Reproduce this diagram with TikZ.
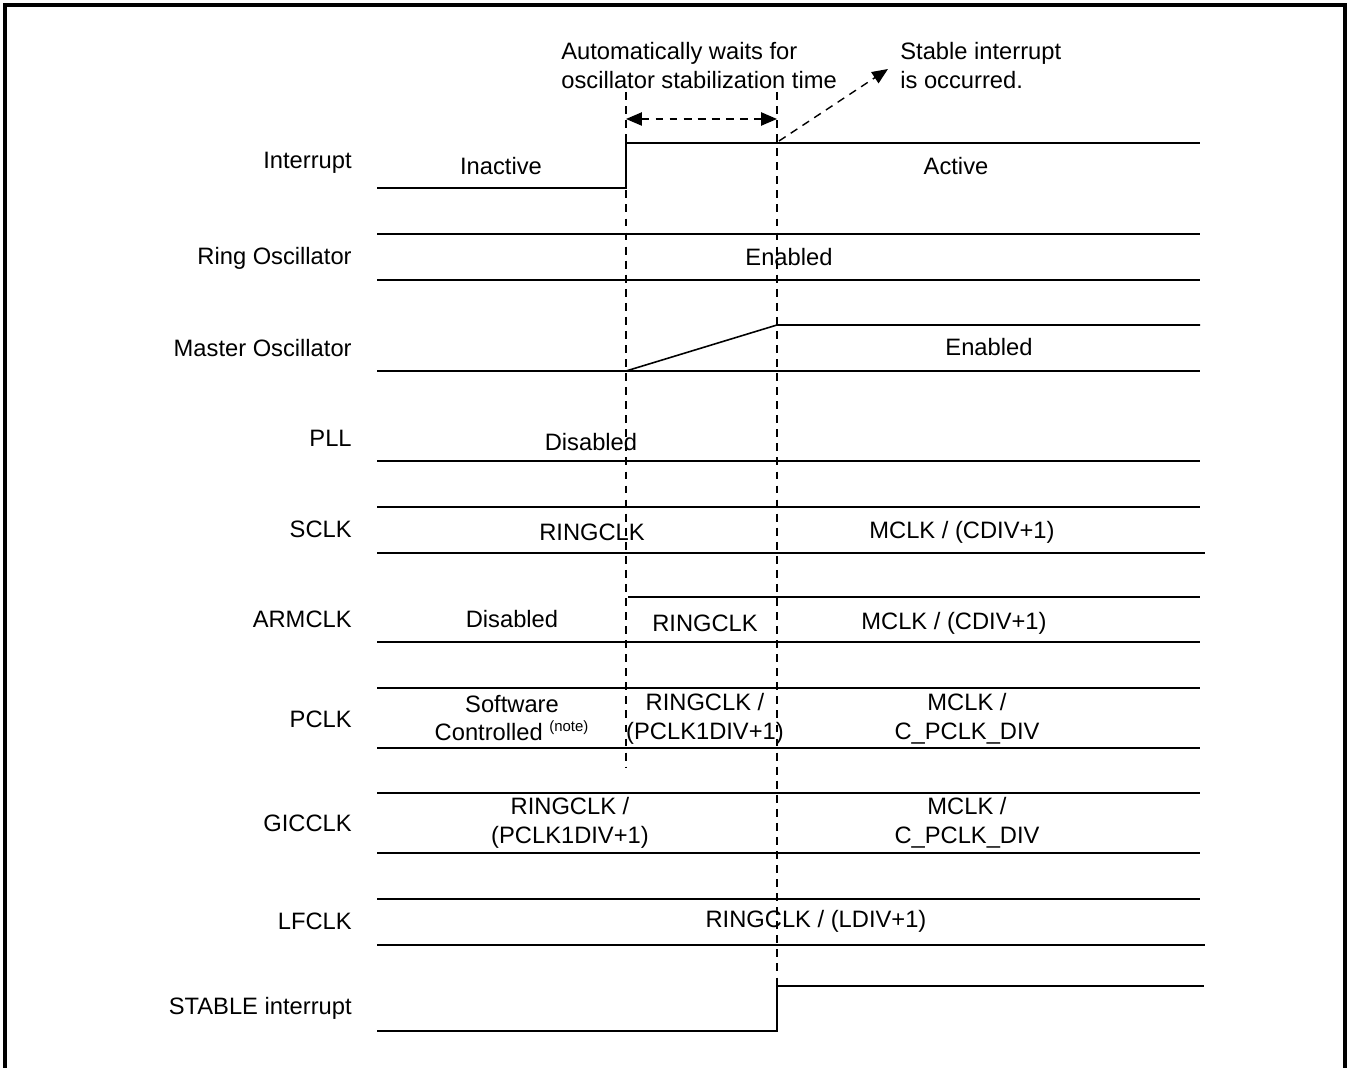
\documentclass[tikz,border=0pt]{standalone}
\usepackage{fontspec}
\setmainfont{Liberation Sans}
\usetikzlibrary{arrows.meta,positioning,calc}

\begin{document}
\begin{tikzpicture}[x=0.02cm,y=-0.02cm,
  sig/.style={draw=black,line width=0.9pt},
  guide/.style={draw=black,line width=0.8pt,dash pattern=on 4.5pt off 3.5pt},
  lbl/.style={anchor=east,inner sep=0pt,font=\fontsize{13.5}{16.4}\selectfont},
  txt/.style={inner sep=0pt,align=center,font=\fontsize{13.5}{16.4}\selectfont}]
  \useasboundingbox (0,0) rectangle (1350,1068);
  \draw[line width=1.8pt] (5,1070) -- (5,5) -- (1345,5) -- (1345,1070);

  % signal names
  \node[lbl](nInt) at (352,163){Interrupt};
  \node[lbl](nRing) at (352,258){Ring Oscillator};
  \node[lbl](nMast) at (352,348){Master Oscillator};
  \node[lbl](nPll) at (352,438){PLL};
  \node[lbl](nSclk) at (352,529){SCLK};
  \node[lbl](nArm) at (352,619){ARMCLK};
  \node[lbl](nPclk) at (352,719){PCLK};
  \node[lbl](nGic) at (352,823){GICCLK};
  \node[lbl](nLf) at (352,921){LFCLK};
  \node[lbl](nStab) at (352,1008){STABLE interrupt};

  % waveforms
  \draw[sig] (377,188) -- (626,188) -- (626,143) -- (1200,143);
  \draw[sig] (377,234) -- (1200,234);
  \draw[sig] (377,280) -- (1200,280);
  \draw[sig] (377,371) -- (1200,371);
  \draw[sig] (626,371) -- (777,325) -- (1200,325);
  \draw[sig] (377,461) -- (1200,461);
  \draw[sig] (377,507) -- (1200,507);
  \draw[sig] (377,553) -- (1205,553);
  \draw[sig] (628,597) -- (1200,597);
  \draw[sig] (377,642) -- (1200,642);
  \draw[sig] (377,688) -- (1200,688);
  \draw[sig] (377,748) -- (1200,748);
  \draw[sig] (377,793) -- (1200,793);
  \draw[sig] (377,853) -- (1200,853);
  \draw[sig] (377,899) -- (1200,899);
  \draw[sig] (377,945) -- (1205,945);
  \draw[sig] (377,1031) -- (777,1031) -- (777,986) -- (1204,986);

  % states
  \node[txt](sInact) at (501,166){Inactive};
  \node[txt](sAct) at (956,166){Active};
  \node[txt](sRingEn) at (789,257){Enabled};
  \node[txt](sMastEn) at (989,347){Enabled};
  \node[txt](sPllDis) at (591,442){Disabled};
  \node[txt](sSclkR) at (592,532){RINGCLK};
  \node[txt](sSclkM) at (962,532){MCLK / (CDIV+1)};
  \node[txt](sArmDis) at (512,619){Disabled};
  \node[txt](sArmR) at (705,623){RINGCLK};
  \node[txt](sArmM) at (954,623){MCLK / (CDIV+1)};
  \node[txt](sPclkSw) at (512,718)
       {Software\\Controlled \textsuperscript{\fontsize{8.5}{9}\selectfont(note)}};
  \node[txt](sPclkR) at (705,719){RINGCLK /\\(PCLK1DIV+1)};
  \node[txt](sPclkM) at (967,719){MCLK /\\C\_PCLK\_DIV};
  \node[txt](sGicR) at (570,823){RINGCLK /\\(PCLK1DIV+1)};
  \node[txt](sGicM) at (967,823){MCLK /\\C\_PCLK\_DIV};
  \node[txt](sLf) at (816,921){RINGCLK / (LDIV+1)};

  % timing marks
  \draw[guide] (626,92) -- (626,768);
  \draw[guide] (777,92) -- (777,986);
  \coordinate (wStart) at (626,119);
  \coordinate (wEnd) at (777,119);
  \coordinate (stEdge) at (779,141);
  \coordinate (stTip) at (888,69);
  \draw[guide,{Triangle[length=9pt,width=7.5pt]}-{Triangle[length=9pt,width=7.5pt]}]
       (wStart) -- (wEnd);
  \draw[guide,-{Triangle[length=9pt,width=7.5pt]}] (stEdge) -- (stTip);
  \node[txt,align=left,anchor=west](cWait) at (561,65.5)
       {Automatically waits for\\oscillator stabilization time};
  \node[txt,align=left,anchor=west](cStab) at (900,65.5)
       {Stable interrupt\\is occurred.};
\end{tikzpicture}
\end{document}
